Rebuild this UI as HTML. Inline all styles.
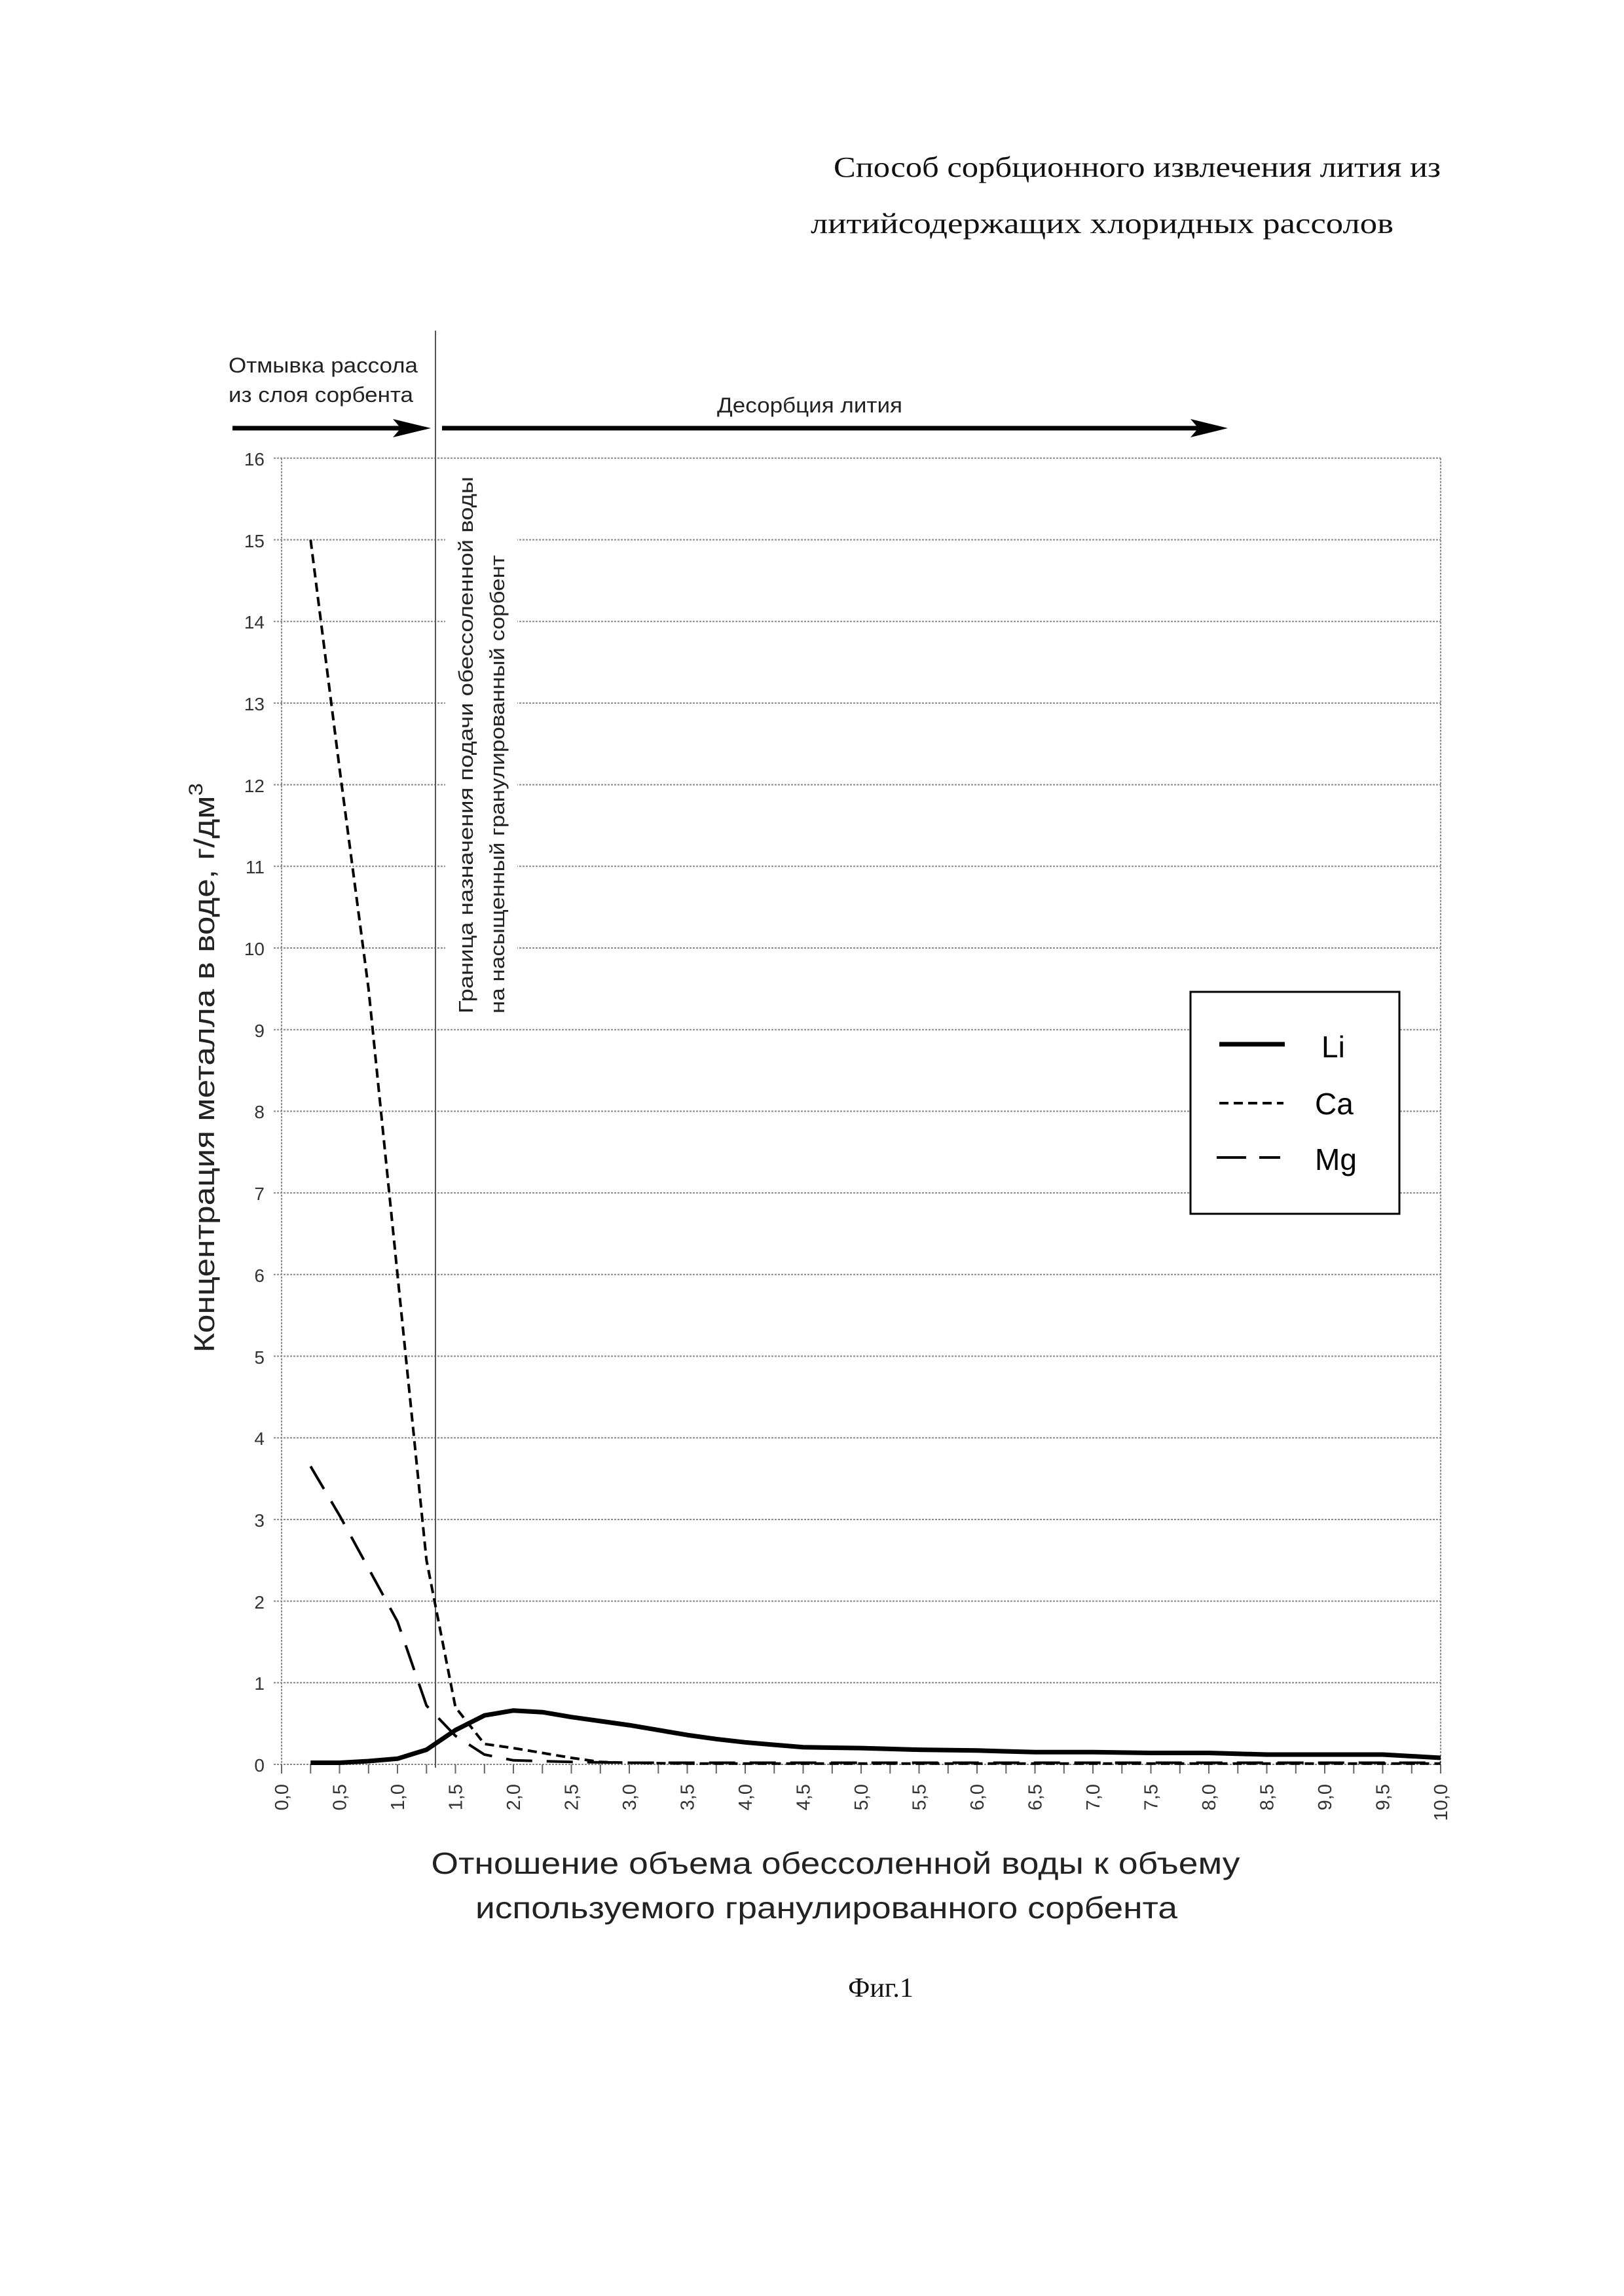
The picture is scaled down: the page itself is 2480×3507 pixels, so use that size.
<!DOCTYPE html>
<html><head><meta charset="utf-8"><style>
html,body{margin:0;padding:0;background:#fff;}
svg{display:block;}
</style></head><body>
<svg width="2480" height="3507" viewBox="0 0 2480 3507" xmlns="http://www.w3.org/2000/svg">
<rect width="2480" height="3507" fill="#fff"/>
<g font-family="Liberation Serif, serif" font-size="44" fill="#111">
<text x="1273" y="270" textLength="927" lengthAdjust="spacingAndGlyphs">Способ сорбционного извлечения лития из</text>
<text x="1238" y="356" textLength="890" lengthAdjust="spacingAndGlyphs">литийсодержащих хлоридных рассолов</text>
<text x="1345" y="3050" text-anchor="middle" font-size="42">Фиг.1</text>
</g>
<g stroke="#888" stroke-width="2" stroke-dasharray="3,2" fill="none">
<path d="M418,2695H2200M418,2570.3H2200M418,2445.6H2200M418,2320.9H2200M418,2196.2H2200M418,2071.5H2200M418,1946.8H2200M418,1822.1H2200M418,1697.4H2200M418,1572.7H2200M418,1448H2200M418,1323.3H2200M418,1198.6H2200M418,1073.9H2200M418,949.2H2200M418,824.5H2200M418,699.8H2200M430,699.8V2695M2200,699.8V2695"/>
</g>
<g stroke="#666" stroke-width="2">
<path d="M430,2695v14M474.3,2695v14M518.5,2695v14M562.8,2695v14M607,2695v14M651.3,2695v14M695.5,2695v14M739.8,2695v14M784,2695v14M828.3,2695v14M872.5,2695v14M916.8,2695v14M961,2695v14M1005.3,2695v14M1049.5,2695v14M1093.8,2695v14M1138,2695v14M1182.3,2695v14M1226.5,2695v14M1270.8,2695v14M1315,2695v14M1359.3,2695v14M1403.5,2695v14M1447.8,2695v14M1492,2695v14M1536.3,2695v14M1580.5,2695v14M1624.8,2695v14M1669,2695v14M1713.3,2695v14M1757.5,2695v14M1801.8,2695v14M1846,2695v14M1890.3,2695v14M1934.5,2695v14M1978.8,2695v14M2023,2695v14M2067.3,2695v14M2111.5,2695v14M2155.8,2695v14M2200,2695v14"/>
</g>
<g font-family="Liberation Sans, sans-serif" font-size="28" fill="#333" text-anchor="end">
<text x="404" y="2706">0</text><text x="404" y="2581">1</text><text x="404" y="2457">2</text><text x="404" y="2332">3</text><text x="404" y="2207">4</text><text x="404" y="2083">5</text><text x="404" y="1958">6</text><text x="404" y="1833">7</text><text x="404" y="1708">8</text><text x="404" y="1584">9</text><text x="404" y="1459">10</text><text x="404" y="1334">11</text><text x="404" y="1210">12</text><text x="404" y="1085">13</text><text x="404" y="960">14</text><text x="404" y="836">15</text><text x="404" y="711">16</text>
</g>
<g font-family="Liberation Sans, sans-serif" font-size="29" fill="#333" text-anchor="end">
<text transform="translate(440,2725) rotate(-90)">0,0</text>
<text transform="translate(528.5,2725) rotate(-90)">0,5</text>
<text transform="translate(617,2725) rotate(-90)">1,0</text>
<text transform="translate(705.5,2725) rotate(-90)">1,5</text>
<text transform="translate(794,2725) rotate(-90)">2,0</text>
<text transform="translate(882.5,2725) rotate(-90)">2,5</text>
<text transform="translate(971,2725) rotate(-90)">3,0</text>
<text transform="translate(1059.5,2725) rotate(-90)">3,5</text>
<text transform="translate(1148,2725) rotate(-90)">4,0</text>
<text transform="translate(1236.5,2725) rotate(-90)">4,5</text>
<text transform="translate(1325,2725) rotate(-90)">5,0</text>
<text transform="translate(1413.5,2725) rotate(-90)">5,5</text>
<text transform="translate(1502,2725) rotate(-90)">6,0</text>
<text transform="translate(1590.5,2725) rotate(-90)">6,5</text>
<text transform="translate(1679,2725) rotate(-90)">7,0</text>
<text transform="translate(1767.5,2725) rotate(-90)">7,5</text>
<text transform="translate(1856,2725) rotate(-90)">8,0</text>
<text transform="translate(1944.5,2725) rotate(-90)">8,5</text>
<text transform="translate(2033,2725) rotate(-90)">9,0</text>
<text transform="translate(2121.5,2725) rotate(-90)">9,5</text>
<text transform="translate(2210,2725) rotate(-90)">10,0</text>
</g>
<g font-family="Liberation Sans, sans-serif" fill="#222">
<text x="349" y="569" font-size="32" textLength="289" lengthAdjust="spacingAndGlyphs">Отмывка рассола</text>
<text x="349" y="614" font-size="32" textLength="282" lengthAdjust="spacingAndGlyphs">из слоя сорбента</text>
<text x="1095" y="630" font-size="32" textLength="283" lengthAdjust="spacingAndGlyphs">Десорбция лития</text>
</g>
<line x1="355" y1="654" x2="640" y2="654" stroke="#000" stroke-width="7"/>
<polygon points="658,654 600,640 612,654 600,668" fill="#000"/>
<line x1="675" y1="654" x2="1850" y2="654" stroke="#000" stroke-width="7"/>
<polygon points="1875,654 1818,640 1830,654 1818,668" fill="#000"/>
<line x1="665" y1="505" x2="665" y2="2700" stroke="#555" stroke-width="2"/>
<rect x="680" y="720" width="110" height="840" fill="#fff"/>
<g font-family="Liberation Sans, sans-serif" font-size="31" fill="#222">
<text transform="translate(722,1548) rotate(-90)" textLength="820" lengthAdjust="spacingAndGlyphs">Граница назначения подачи обессоленной воды</text>
<text transform="translate(770,1548) rotate(-90)" textLength="700" lengthAdjust="spacingAndGlyphs">на насыщенный гранулированный сорбент</text>
<text transform="translate(327,2066) rotate(-90)" font-size="44" textLength="870" lengthAdjust="spacingAndGlyphs">Концентрация металла в воде, г/дм<tspan dy="-18" font-size="30">3</tspan></text>
</g>
<g fill="none" stroke="#000">
<path stroke-width="7" stroke-linejoin="round" d="M474.3,2692.5L518.5,2692.5L562.8,2690L607,2686.3L651.3,2672.6L695.5,2642.6L739.8,2620.2L784,2612.7L828.3,2615.2L872.5,2622.7L916.8,2628.9L961,2635.1L1005.3,2642.6L1049.5,2650.1L1093.8,2656.3L1138,2661.3L1182.3,2665.1L1226.5,2668.8L1315,2670.1L1403.5,2672.6L1492,2673.8L1580.5,2676.3L1669,2676.3L1757.5,2677.5L1846,2677.5L1934.5,2680L2023,2680L2111.5,2680L2155.8,2682.5L2200,2685"/>
<path stroke-width="4" stroke-dasharray="14,8" d="M474.3,824.5L518.5,1173.7L562.8,1510.3L607,1946.8L651.3,2383.3L695.5,2607.7L739.8,2663.8L784,2670.1L828.3,2677.5L872.5,2685L916.8,2691.3L961,2692.5L1049.5,2693.8L2200,2693.8"/>
<path stroke-width="4" stroke-dasharray="40,22" d="M474.3,2239.8L518.5,2314.7L562.8,2395.7L607,2476.8L651.3,2605.2L695.5,2651.4L739.8,2680L784,2688.8L872.5,2691.3L961,2692.5L2200,2692.5"/>
</g>
<rect x="1818" y="1515" width="319" height="339" fill="#fff" stroke="#000" stroke-width="3"/>
<line x1="1862" y1="1595" x2="1962" y2="1595" stroke="#000" stroke-width="7"/>
<line x1="1862" y1="1685" x2="1960" y2="1685" stroke="#000" stroke-width="4" stroke-dasharray="14,8"/>
<line x1="1858" y1="1768" x2="1955" y2="1768" stroke="#000" stroke-width="4" stroke-dasharray="45,20"/>
<g font-family="Liberation Sans, sans-serif" font-size="46" fill="#000">
<text x="2018" y="1615">Li</text>
<text x="2008" y="1702">Ca</text>
<text x="2008" y="1787">Mg</text>
</g>
<g font-family="Liberation Sans, sans-serif" font-size="46" fill="#222">
<text x="1276" y="2862" text-anchor="middle" textLength="1235" lengthAdjust="spacingAndGlyphs">Отношение объема обессоленной воды к объему</text>
<text x="1262" y="2930" text-anchor="middle" textLength="1072" lengthAdjust="spacingAndGlyphs">используемого гранулированного сорбента</text>
</g>
</svg>
</body></html>
